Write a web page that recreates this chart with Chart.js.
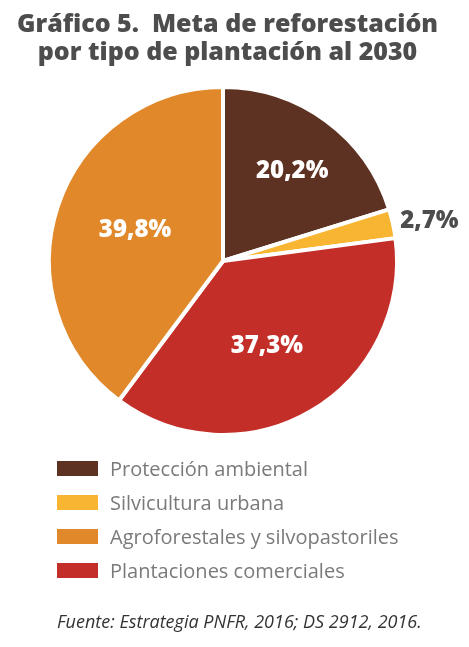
<!DOCTYPE html>
<html>
<head>
<meta charset="utf-8">
<script src="https://cdn.jsdelivr.net/npm/chart.js@4.4.0/dist/chart.umd.min.js"></script>
<style>
  body { margin: 0; background: #fff; width: 469px; height: 647px; position: relative; overflow: hidden; }
  #chart { position: absolute; left: 0; top: 0; }
  #title { position: absolute; left: 0; top: 8px; width: 455px; text-align: center;
    font: 800 25px/28px "Open Sans"; color: #4d4d4d; }
  #legend { position: absolute; left: 57px; top: 451px; margin: 0; padding: 0; list-style: none;
    font: 500 20px "Open Sans"; color: #7a7a7a; }
  #legend li { height: 34px; display: flex; align-items: center; }
  #legend span { display: inline-block; width: 41px; height: 15px; margin-right: 12px; margin-top: 1px; }
  #source { position: absolute; left: 57px; top: 609px; font: italic 18px "Open Sans"; color: #333; }
</style>
</head>
<body>
<canvas id="chart" width="469" height="647"></canvas>
<div id="title">Gráfico 5.&nbsp; Meta de reforestación<br>por tipo de plantación al 2030</div>
<ul id="legend"></ul>
<div id="source">Fuente: Estrategia PNFR, 2016; DS 2912, 2016.</div>
<script>
// slices in drawing order, clockwise from 12 o'clock
const categories = ["Protección ambiental", "Silvicultura urbana", "Plantaciones comerciales", "Agroforestales y silvopastoriles"]
const shares = [20.2, 2.7, 37.3, 39.8]
const colors = ["#5d3222", "#f8b532", "#c42e28", "#e1892a"]
// the legend lists them in another order
const legendOrder = ["Protección ambiental", "Silvicultura urbana", "Agroforestales y silvopastoriles", "Plantaciones comerciales"]

// label placement: fraction of the radius and a small turn (degrees) past the slice middle
const labelRadius = [0.66, 1.21, 0.54, 0.54]
const labelTurn = [0.7, 1.0, 2.6, 2.2]
const labelColors = ["#fff", "#4d4d4d", "#fff", "#fff"]

const sliceLabels = {
  id: "sliceLabels",
  afterDatasetsDraw(chart) {
    const ctx = chart.ctx
    const meta = chart.getDatasetMeta(0)
    ctx.save()
    ctx.font = "800 24px 'Open Sans'"
    ctx.textAlign = "center"
    ctx.textBaseline = "middle"
    meta.data.forEach((arc, i) => {
      const mid = (arc.startAngle + arc.endAngle) / 2 + labelTurn[i] * Math.PI / 180
      const r = arc.outerRadius * labelRadius[i]
      ctx.fillStyle = labelColors[i]
      ctx.fillText(shares[i].toFixed(1).replace(".", ",") + "%", arc.x + Math.cos(mid) * r, arc.y + Math.sin(mid) * r + 2)
    })
    ctx.restore()
  }
}

const chart = new Chart(document.getElementById("chart"), {
  type: "pie",
  data: {
    labels: categories,
    datasets: [{
      data: shares,
      backgroundColor: colors,
      borderColor: "#fff",
      borderWidth: 4
    }]
  },
  options: {
    responsive: false,
    animation: false,
    layout: { padding: { left: 47, top: 85, right: 70, bottom: 210 } },
    plugins: {
      legend: { display: false },
      tooltip: { enabled: false }
    }
  },
  plugins: [sliceLabels]
})

const legend = document.getElementById("legend")
legendOrder.forEach(name => {
  const i = categories.indexOf(name)
  const li = document.createElement("li")
  const box = document.createElement("span")
  box.style.background = colors[i]
  li.appendChild(box)
  li.appendChild(document.createTextNode(name))
  legend.appendChild(li)
})
</script>
</body>
</html>
